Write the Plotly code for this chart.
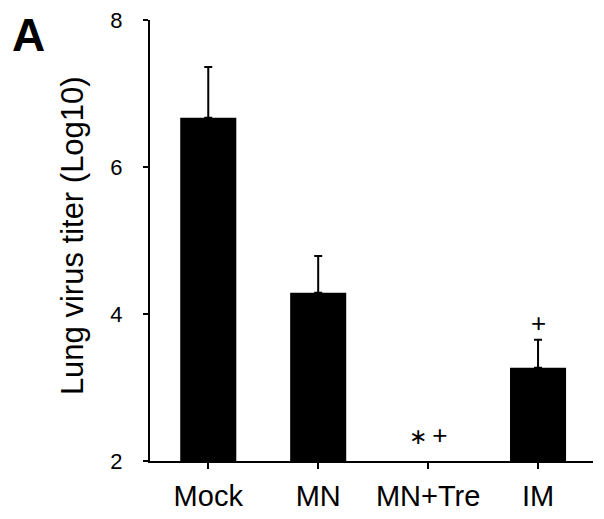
import plotly.graph_objects as go

# 数据
groups = ["Mock", "MN", "MN+Tre", "IM"]
titer = [6.67, 4.29, None, 3.27]
titer_err = [0.69, 0.50, None, 0.38]
marks = ["", "", "<span style='font-size:22px'>\u2217</span>\u2009+", "+"]
mark_y = [None, None, 2.35, 3.88]
y_ticks = [2, 4, 6, 8]

FONT = "Arial, Liberation Sans, sans-serif"

fig = go.Figure()
fig.add_trace(go.Bar(
    x=list(range(len(groups))),
    y=titer,
    width=0.51,
    marker=dict(color="black", line=dict(width=0)),
    error_y=dict(
        type="data",
        symmetric=False,
        array=titer_err,
        arrayminus=[0] * len(groups),
        color="black",
        thickness=2,
        width=4,
    ),
))

for i, (m, my) in enumerate(zip(marks, mark_y)):
    if m:
        fig.add_annotation(
            x=i, y=my, text=m, showarrow=False,
            font=dict(family=FONT, size=26, color="black"),
        )

# 面板字母
fig.add_annotation(
    xref="paper", yref="paper", x=-0.275, y=0.965,
    xanchor="center", yanchor="middle",
    text="<b>A</b>", showarrow=False,
    font=dict(family=FONT, size=46, color="black"),
)
# 纵轴标题
fig.add_annotation(
    xref="paper", yref="paper", x=-0.176, y=0.51,
    xanchor="center", yanchor="middle",
    text="Lung virus titer (Log10)", textangle=-90, showarrow=False,
    font=dict(family=FONT, size=31, color="black"),
)

# 页面 body 自带约 8px 边距，这里在边距上扣掉
fig.update_layout(
    width=604, height=519,
    margin=dict(l=142, r=19, t=12, b=66),
    paper_bgcolor="white",
    plot_bgcolor="white",
    showlegend=False,
    font=dict(family=FONT, color="black"),
    xaxis=dict(
        range=[-0.53, 3.5],
        tickvals=list(range(len(groups))),
        ticktext=groups,
        ticks="outside", ticklen=6, tickwidth=2, tickcolor="black",
        showline=True, linecolor="black", linewidth=2,
        showgrid=False, zeroline=False, automargin=False,
        tickfont=dict(family=FONT, size=29, color="black"),
        ticklabelstandoff=2,
        ticklabeloverflow="allow",
    ),
    yaxis=dict(
        range=[2, 8],
        tickvals=y_ticks,
        ticks="outside", ticklen=5, tickwidth=2, tickcolor="black",
        showline=True, linecolor="black", linewidth=2,
        showgrid=False, zeroline=False, automargin=False,
        tickfont=dict(family=FONT, size=22, color="black"),
        ticklabelstandoff=16,
        ticklabeloverflow="allow",
    ),
)

fig.write_html("out.html")
